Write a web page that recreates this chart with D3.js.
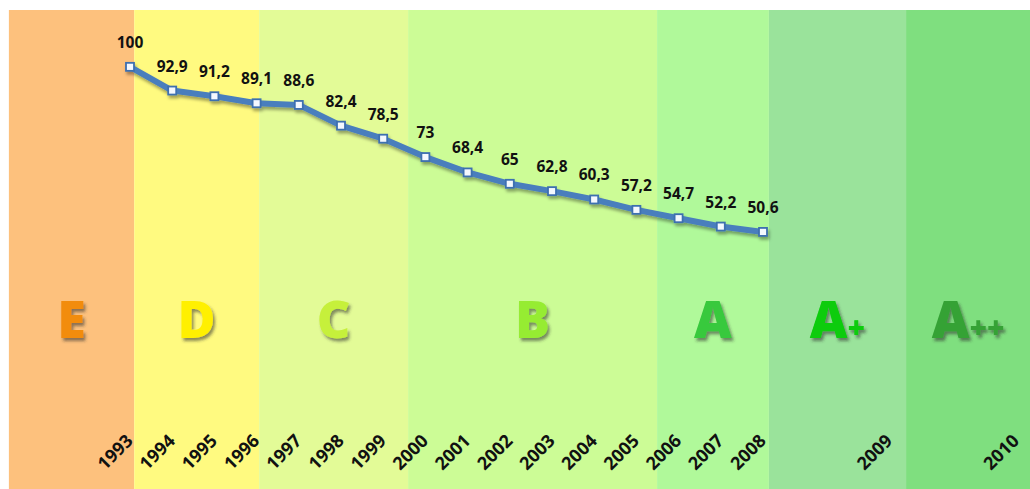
<!DOCTYPE html>
<html>
<head>
<meta charset="utf-8">
<script src="https://cdn.jsdelivr.net/npm/d3@7"></script>
<style>
  html, body { margin: 0; padding: 0; background: #ffffff; }
  svg { display: block; }
</style>
</head>
<body>
<svg id="chart" width="1030" height="489"></svg>
<script>
// Energy consumption index (1993 = 100) by year
const years = ['1993','1994','1995','1996','1997','1998','1999','2000','2001','2002','2003','2004','2005','2006','2007','2008'];
const values = [100, 92.9, 91.2, 89.1, 88.6, 82.4, 78.5, 73, 68.4, 65, 62.8, 60.3, 57.2, 54.7, 52.2, 50.6];

// Category axis: slot index for every tick label (targets 2009 and 2010 sit further right)
const tickLabels = [...years, '2009', '2010'];
const tickSlots = [...years.map((_, i) => i), 18, 21];

// Efficiency classes as vertical bands, edges given in slot units
const classNames = ['E', 'D', 'C', 'B', 'A', 'A+', 'A++'];
const classEdges = [-2.87, 0.1, 3.06, 6.59, 12.49, 15.14, 18.39, 21.33];
const classFills = ['#fdc17d', '#fffa80', '#e3fb97', '#ccfc96', '#b0f99a', '#9ae39b', '#7fdf7f'];
const classInks  = ['#f28c0c', '#fff000', '#c6f03a', '#96ec33', '#37c93c', '#08cc08', '#36a236'];

const svg = d3.select('#chart');

const x = d3.scaleLinear().domain([0, 15]).range([130, 763]);
const y = d3.scaleLinear().domain([0, 120]).range([401, 0]);
const bandTop = 10, bandBottom = 489;

const defs = svg.append('defs');
const lineShadow = defs.append('filter').attr('id', 'lineShadow')
  .attr('x', '-10%').attr('y', '-20%').attr('width', '130%').attr('height', '160%');
lineShadow.append('feDropShadow').attr('dx', 1.5).attr('dy', 3).attr('stdDeviation', 1.8)
  .attr('flood-color', '#000').attr('flood-opacity', 0.35);
const letterShadow = defs.append('filter').attr('id', 'letterShadow')
  .attr('x', '-20%').attr('y', '-20%').attr('width', '150%').attr('height', '150%');
letterShadow.append('feDropShadow').attr('dx', 2).attr('dy', 3).attr('stdDeviation', 1.6)
  .attr('flood-color', '#333').attr('flood-opacity', 0.55);

// Class bands
const bands = classNames.map((name, i) => ({
  name, x0: classEdges[i], x1: classEdges[i + 1], fill: classFills[i], ink: classInks[i]
}));

svg.append('g').selectAll('rect').data(bands).join('rect')
  .attr('x', d => x(d.x0))
  .attr('y', bandTop)
  .attr('width', d => x(d.x1) - x(d.x0))
  .attr('height', bandBottom - bandTop)
  .attr('fill', d => d.fill);

// Class letters, "+" signs set smaller
const letters = svg.append('g')
  .attr('font-family', '"Open Sans", Lato, sans-serif')
  .attr('font-weight', 800)
  .attr('filter', 'url(#letterShadow)');
bands.forEach(b => {
  const t = letters.append('text')
    .attr('x', (x(b.x0) + x(b.x1)) / 2)
    .attr('y', 338)
    .attr('text-anchor', 'middle')
    .attr('fill', b.ink);
  t.append('tspan').attr('font-size', 52).text(b.name[0]);
  if (b.name.length > 1) {
    t.append('tspan').attr('font-size', 30).text(b.name.slice(1));
  }
});

// Year labels, rotated
svg.append('g')
  .attr('font-family', '"Open Sans", Lato, sans-serif')
  .attr('font-weight', 700)
  .attr('font-size', 18)
  .attr('fill', '#111')
  .selectAll('text').data(tickLabels).join('text')
  .attr('text-anchor', 'end')
  .attr('transform', (d, i) => `translate(${x(tickSlots[i]) + 4},442) rotate(-45)`)
  .text(d => d);

// Index line
const pts = values.map((v, i) => ({ i, v }));
const line = d3.line().x(d => x(d.i)).y(d => y(d.v));

const lineG = svg.append('g').attr('filter', 'url(#lineShadow)');
lineG.append('path')
  .datum(pts)
  .attr('d', line)
  .attr('fill', 'none')
  .attr('stroke', '#4a7ebd')
  .attr('stroke-width', 6)
  .attr('stroke-linejoin', 'round');

lineG.selectAll('rect').data(pts).join('rect')
  .attr('x', d => x(d.i) - 4)
  .attr('y', d => y(d.v) - 4)
  .attr('width', 8)
  .attr('height', 8)
  .attr('fill', '#f4f8ff')
  .attr('stroke', '#3d6fb0')
  .attr('stroke-width', 1.8);

// Value labels
svg.append('g')
  .attr('font-family', '"Open Sans", Lato, sans-serif')
  .attr('font-weight', 700)
  .attr('font-size', 15.5)
  .attr('fill', '#111')
  .selectAll('text').data(pts).join('text')
  .attr('x', d => x(d.i))
  .attr('y', d => y(d.v) - 19)
  .attr('text-anchor', 'middle')
  .text(d => String(d.v).replace('.', ','));
</script>
</body>
</html>
